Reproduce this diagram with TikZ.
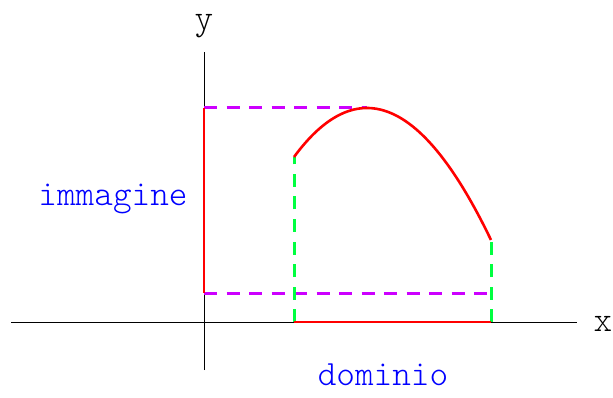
\documentclass[tikz,border=0pt]{standalone}
\usepackage{fontspec}
\setmonofont{Latin Modern Mono Light}
\begin{document}
\begin{tikzpicture}[x=1pt,y=-1pt,
  lbl/.style={font=\ttfamily\fontsize{35.5}{38}\selectfont, inner sep=0pt},
  axis/.style={black, line width=1pt},
  redline/.style={red, line width=2.6pt},
  magdash/.style={color={rgb,255:red,204;green,0;blue,255}, line width=3pt, dash pattern=on 13pt off 9.5pt},
  grndash/.style={color={rgb,255:red,0;green,255;blue,64}, line width=3pt, dash pattern=on 13pt off 9.5pt}]
\useasboundingbox (0,0) rectangle (613,398);
% axes
\coordinate (xl) at (11,322);
\coordinate (xr) at (577,322);
\coordinate (yb) at (204,370);
\coordinate (yt) at (204,52);
\draw[axis] (xl) -- (xr);
\draw[axis] (yb) -- (yt);
\node[lbl, anchor=base] (ylab) at (204,30) {y};
\node[lbl, anchor=base] (xlab) at (603,331) {x};
% key points
\coordinate (ytop) at (204,108);
\coordinate (ybot) at (204,293);
\coordinate (peak) at (367,108);
\coordinate (a) at (294,157);
\coordinate (b) at (491,240);
\coordinate (a0) at (294,322);
\coordinate (b0) at (491,322);
\coordinate (bm) at (491,293);
% dashed lines
\draw[magdash] (ytop) -- (peak);
\draw[magdash] (ybot) -- (bm);
\draw[grndash] (a0) -- (a);
\draw[grndash] (b0) -- (b);
% red segments
\draw[redline] (ytop) -- (ybot);
\draw[redline] (a0) -- (b0);
\draw[redline, domain=-0.73:1.24, samples=80, variable=\t]
  plot ({367+100*\t},{108+89.69*\t*\t-3.097*\t*\t*\t});
% labels
\node[lbl, text=blue, anchor=base] (imm) at (113,206) {immagine};
\node[lbl, text=blue, anchor=base] (dom) at (383,385) {dominio};
\end{tikzpicture}
\end{document}
